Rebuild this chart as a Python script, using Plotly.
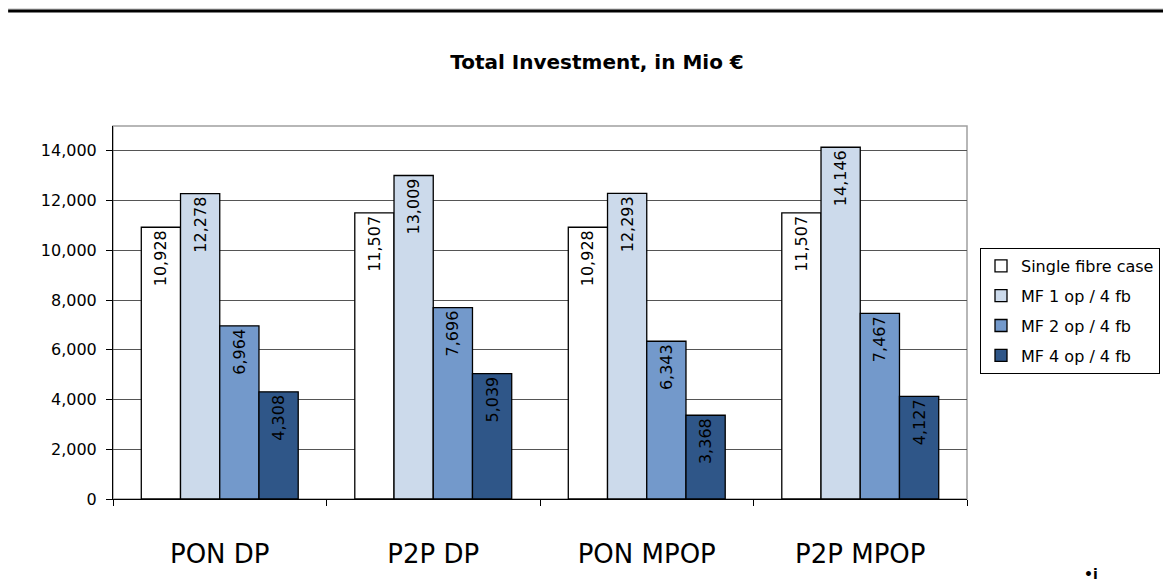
import plotly.graph_objects as go

categories = ["PON DP", "P2P DP", "PON MPOP", "P2P MPOP"]
series_names = ["Single fibre case", "MF 1 op / 4 fb", "MF 2 op / 4 fb", "MF 4 op / 4 fb"]
single_fibre = [10928, 11507, 10928, 11507]
mf1 = [12278, 13009, 12293, 14146]
mf2 = [6964, 7696, 6343, 7467]
mf4 = [4308, 5039, 3368, 4127]
colors = ["#FFFFFF", "#CCDAEB", "#7399CB", "#2F5688"]
y_ticks = [0, 2000, 4000, 6000, 8000, 10000, 12000, 14000]

FONT = "'DejaVu Sans', sans-serif"
# page has an 8px body margin; figure coordinates below are page coords minus 8
W, H = 1163, 577
L, R, T, B = 105, 960, 118, 491


def px(x):
    return (x - L) / (R - L)


def py(y):
    return (B - y) / (B - T)


fig = go.Figure()
for name, vals, col in zip(series_names, [single_fibre, mf1, mf2, mf4], colors):
    fig.add_trace(go.Bar(
        x=categories, y=vals, name=name, legendgroup=name,
        marker=dict(color=col, line=dict(color="#000000", width=1.3)),
        text=[f"{v:,}" for v in vals],
        textposition="inside", insidetextanchor="end", textangle=-90,
        textfont=dict(family=FONT, size=16, color="#000000"),
        constraintext="none",
    ))

fig.update_layout(
    width=W, height=H,
    margin=dict(l=L, r=W - R, t=T, b=H - B, pad=0),
    paper_bgcolor="white", plot_bgcolor="white",
    barmode="group", bargap=0.265, bargroupgap=0,
    font=dict(family=FONT, color="#000000"),
    title=dict(text="<b>Total Investment, in Mio €</b>", xref="container", x=589 / W,
               xanchor="center", yref="container", y=1 - 54 / H, yanchor="middle",
               font=dict(family=FONT, size=20, color="#000000")),
    showlegend=True,
    legend=dict(x=px(972), xanchor="left", y=py(240), yanchor="top",
                bordercolor="#000000", borderwidth=1, bgcolor="white",
                font=dict(family=FONT, size=16, color="#000000"),
                itemwidth=30, tracegroupgap=6, traceorder="grouped"),
    xaxis=dict(type="category", showgrid=False, showline=True, linecolor="#000000", linewidth=1,
               ticks="outside", tickson="boundaries", ticklen=6, tickcolor="#000000",
               tickfont=dict(family=FONT, size=26, color="#000000"), ticklabelstandoff=32),
    yaxis=dict(range=[0, 15000], tickvals=y_ticks, tickformat=",d", showgrid=True,
               gridcolor="#555555", gridwidth=1, showline=True, linecolor="#000000", linewidth=1,
               ticks="outside", ticklen=6, tickcolor="#000000", zeroline=False,
               tickfont=dict(family=FONT, size=16, color="#000000"), ticklabelstandoff=6),
)
# plot border (grey, top/right)
fig.add_shape(type="rect", xref="paper", yref="paper", x0=0, x1=1, y0=0, y1=1,
              line=dict(color="#A0A0A0", width=1.5), layer="below")
# top rule across page
fig.add_shape(type="line", xref="paper", yref="paper",
              x0=px(0), x1=px(W), y0=py(1), y1=py(1),
              line=dict(color="#B8B8B8", width=1))
fig.add_shape(type="line", xref="paper", yref="paper",
              x0=px(0), x1=px(W), y0=py(3), y1=py(3),
              line=dict(color="#000000", width=3))
# partial logo at bottom right
fig.add_annotation(text="<b>•i</b>", xref="paper", yref="paper",
                   x=px(1084), y=py(566), xanchor="center", yanchor="middle",
                   showarrow=False, font=dict(family=FONT, size=14, color="#000000"))

fig.write_html("out.html")
